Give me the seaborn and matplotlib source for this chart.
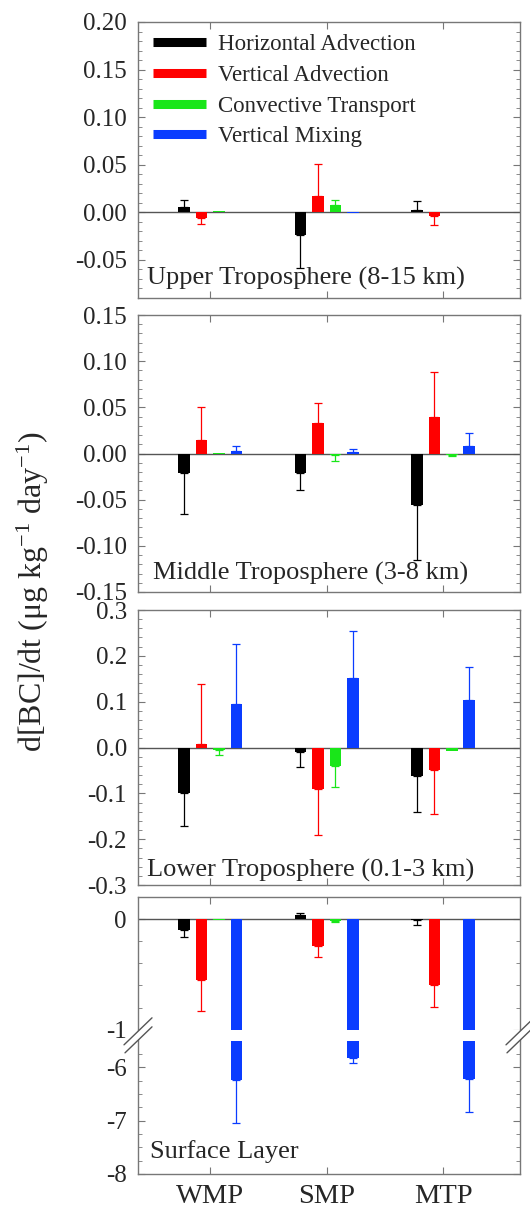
import numpy as np
import pandas as pd
import matplotlib
matplotlib.use("Agg")
import matplotlib.pyplot as plt
import seaborn as sns
from matplotlib.lines import Line2D
from matplotlib.patches import Polygon
from matplotlib.ticker import FormatStrFormatter, FixedLocator
from matplotlib.transforms import ScaledTranslation

sites = ["WMP", "SMP", "MTP"]
processes = ["Horizontal Advection", "Vertical Advection",
             "Convective Transport", "Vertical Mixing"]
colors = ["#000000", "#ff0000", "#19e619", "#0a3cff"]

# rows = processes, columns = sites; errors are one-sided (away from zero)
upper_mean = [[0.006, -0.024, 0.002],
              [-0.006, 0.017, -0.004],
              [0.0015, 0.0075, 0.0005],
              [0.0004, -0.001, 0.0008]]
upper_err = [[0.007, 0.034, 0.010],
             [0.006, 0.034, 0.0095],
             [0.0, 0.005, 0.0],
             [0.0, 0.0, 0.0]]

middle_mean = [[-0.0215, -0.0215, -0.056],
               [0.0145, 0.0325, 0.040],
               [0.0007, -0.002, -0.0015],
               [0.003, 0.002, 0.008]]
middle_err = [[0.0435, 0.0185, 0.059],
              [0.0355, 0.0225, 0.048],
              [0.0, 0.006, 0.001],
              [0.0053, 0.003, 0.0145]]

lower_mean = [[-0.100, -0.009, -0.063],
              [0.0075, -0.090, -0.049],
              [-0.0065, -0.041, -0.008],
              [0.094, 0.151, 0.104]]
lower_err = [[0.072, 0.034, 0.078],
             [0.131, 0.101, 0.097],
             [0.0105, 0.045, 0.0],
             [0.132, 0.103, 0.072]]

surface_mean = [[-0.10, 0.033, -0.005],
                [-0.548, -0.247, -0.60],
                [-0.004, -0.02, -0.003],
                [-6.24, -5.82, -6.22]]
surface_err = [[0.066, 0.021, 0.052],
               [0.286, 0.093, 0.19],
               [0.0, 0.01, 0.0],
               [0.80, 0.10, 0.61]]

titles = ["Upper Troposphere (8-15 km)", "Middle Troposphere (3-8 km)",
          "Lower Troposphere (0.1-3 km)", "Surface Layer"]

sns.set_style("ticks")
plt.rcParams["font.family"] = ["Liberation Serif", "DejaVu Serif"]
plt.rcParams["mathtext.fontset"] = "custom"
plt.rcParams["mathtext.rm"] = "Liberation Serif"
plt.rcParams["mathtext.default"] = "regular"
plt.rcParams["axes.unicode_minus"] = False

spine_col = "#777777"
W, H = 530, 1211
fig = plt.figure(figsize=(5.3, 12.11), dpi=100)
boxes = [(22, 298), (315, 592), (610, 885), (897, 1174)]
axes = [fig.add_axes([138 / W, 1 - b / H, 382 / W, (b - t) / H]) for t, b in boxes]


def draw_panel(ax, means, errs):
    rows = [(s, p, v) for p, m in zip(processes, means) for s, v in zip(sites, m)]
    df = pd.DataFrame(rows, columns=["site", "process", "value"])
    sns.barplot(df, x="site", y="value", hue="process", order=sites,
                hue_order=processes, palette=dict(zip(processes, colors)),
                width=0.6, gap=0.33, errorbar=None, saturation=1,
                linewidth=0, legend=False, ax=ax, zorder=2)
    for bar in list(ax.patches):
        cx = bar.get_x() + bar.get_width() / 2
        i = int(round(cx))
        j = int(round((cx - i + 0.225) / 0.15))
        v = bar.get_height()
        e = errs[j][i]
        if e <= 0:
            continue
        yerr = [[0], [e]] if v >= 0 else [[e], [0]]
        ax.errorbar(cx, v, yerr=yerr, fmt="none", ecolor=colors[j],
                    elinewidth=0.9, capsize=3, capthick=0.9, zorder=1.5)
    ax.axhline(0, color="#555555", lw=1.0, zorder=1)
    ax.set_xlim(-0.62, 2.66)
    ax.set_xlabel("")
    ax.set_ylabel("")
    ax.set_xticks([0, 1, 2])
    for sp in ax.spines.values():
        sp.set_color(spine_col)
        sp.set_linewidth(1.0)
    ax.tick_params(which="both", direction="in", top=True, right=True,
                   color=spine_col, labelsize=18, pad=8)
    ax.tick_params(which="major", length=5)
    ax.tick_params(which="minor", length=3)
    ax.tick_params(axis="x", which="minor", bottom=False, top=False)


panels = [(upper_mean, upper_err), (middle_mean, middle_err),
          (lower_mean, lower_err), (surface_mean, surface_err)]
for ax, (m, e) in zip(axes, panels):
    draw_panel(ax, m, e)

# y ranges and ticks
axes[0].set_ylim(-0.09, 0.20)
axes[0].set_yticks([0.20, 0.15, 0.10, 0.05, 0.00, -0.05])
axes[0].yaxis.set_minor_locator(FixedLocator(np.arange(-0.09, 0.2, 0.01)))
axes[0].yaxis.set_major_formatter(FormatStrFormatter("%.2f"))

axes[1].set_ylim(-0.15, 0.15)
axes[1].set_yticks([0.15, 0.10, 0.05, 0.00, -0.05, -0.10, -0.15])
axes[1].yaxis.set_minor_locator(FixedLocator(np.arange(-0.15, 0.15, 0.01)))
axes[1].yaxis.set_major_formatter(FormatStrFormatter("%.2f"))

axes[2].set_ylim(-0.3, 0.3)
axes[2].set_yticks([0.3, 0.2, 0.1, 0.0, -0.1, -0.2, -0.3])
axes[2].yaxis.set_minor_locator(FixedLocator(np.arange(-0.3, 0.3, 0.02)))
axes[2].yaxis.set_major_formatter(FormatStrFormatter("%.1f"))

# broken axis for the surface layer: 0.2..-1 stretched, -5.5..-8 compressed
k_mid = 0.099 / 4.5
k_low = 53.5 / 111


def fwd(y):
    y = np.asarray(y, dtype=float)
    return np.where(y >= -1, y,
                    np.where(y >= -5.5, -1 + (y + 1) * k_mid,
                             -1.099 + (y + 5.5) * k_low))


def inv(t):
    t = np.asarray(t, dtype=float)
    return np.where(t >= -1, t,
                    np.where(t >= -1.099, -1 + (t + 1) / k_mid,
                             -5.5 + (t + 1.099) / k_low))


ax4 = axes[3]
ax4.set_yscale("function", functions=(fwd, inv))
ax4.set_ylim(-8, 0.2)
ax4.set_yticks([0, -1, -6, -7, -8])
ax4.yaxis.set_major_formatter(FormatStrFormatter("%d"))
ax4.yaxis.set_minor_locator(FixedLocator([-0.2, -0.4, -0.6, -0.8, -5.75, -6.25,
                                          -6.5, -6.75, -7.25, -7.5, -7.75]))
ax4.axhspan(-5.5, -1.0, color="white", zorder=2.3, lw=0)
ax4.set_xticklabels(sites, fontsize=20.5)
ax4.tick_params(axis="x", pad=7)
for ax in axes[:3]:
    ax.tick_params(axis="x", labelbottom=False)

# break marks on both spines
shape_a = np.array([[-14, -9], [14, 18]]) / 100
shape_b = np.array([[-13, -17], [14, 9]]) / 100
for xa in (0, 1):
    tr = fig.dpi_scale_trans + ScaledTranslation(xa, -3.5, ax4.get_yaxis_transform())
    poly = Polygon(np.vstack([shape_a, shape_b[::-1]]), closed=True, fc="white",
                   ec="none", transform=tr, clip_on=False, zorder=3)
    ax4.add_patch(poly)
    for sh in (shape_a, shape_b):
        ax4.add_line(Line2D(sh[:, 0], sh[:, 1], color="#555555", lw=1.0,
                            transform=tr, clip_on=False, zorder=3.1))

# panel labels
title_pos = [(0.024, 0.028), (0.04, 0.025), (0.024, 0.012), (0.031, 0.04)]
for ax, t, (tx, ty) in zip(axes, titles, title_pos):
    ax.text(tx, ty, t, transform=ax.transAxes, fontsize=19,
            ha="left", va="bottom", zorder=4)

# legend
handles = [Line2D([0], [0], color=c, lw=6.5, solid_capstyle="butt") for c in colors]
axes[0].legend(handles, processes, loc="upper left", bbox_to_anchor=(0.039, 0.955),
               frameon=False, fontsize=16.5, handlelength=2.3, handletextpad=0.55,
               labelspacing=0.42, borderaxespad=0, borderpad=0)

fig.text(33 / W, 1 - 592 / H, "d[BC]/dt (μg kg$^{-1}$ day$^{-1}$)", rotation=90,
         ha="center", va="center", fontsize=23)

fig.savefig("out.png", dpi=100)
